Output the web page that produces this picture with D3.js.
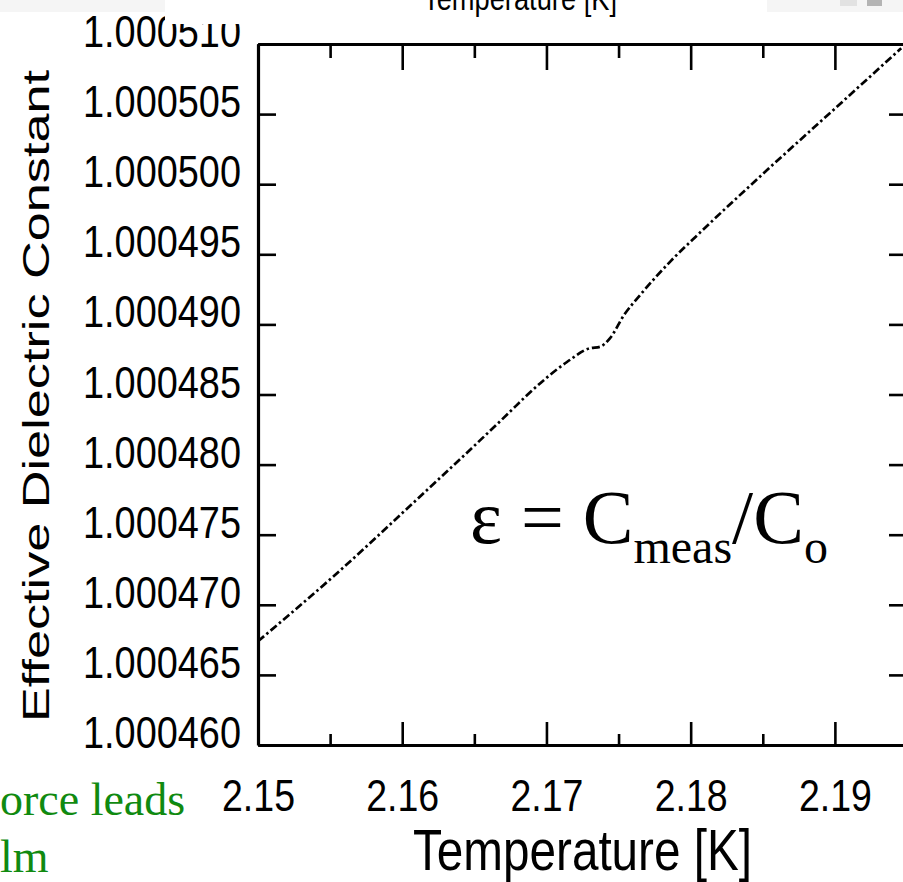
<!DOCTYPE html>
<html>
<head>
<meta charset="utf-8">
<script src="https://cdn.jsdelivr.net/npm/d3@7"></script>
<style>
  html, body { margin: 0; padding: 0; background: #ffffff; }
  svg { display: block; }
</style>
</head>
<body>
<svg id="chart" width="903" height="882"></svg>
<script>
// Effective dielectric constant of the cell vs temperature, across the lambda point
const temperature = [2.1500, 2.1552, 2.1610, 2.1675, 2.1685, 2.1714, 2.1730, 2.1737,
                     2.1744, 2.1754, 2.1765, 2.1786, 2.1806, 2.1855, 2.1899, 2.1946];
const dielectric  = [1.0004674, 1.0004720, 1.0004775, 1.0004838, 1.0004848, 1.0004873,
                     1.0004883, 1.0004884, 1.0004890, 1.0004907, 1.0004921, 1.0004945,
                     1.0004965, 1.0005012, 1.0005053, 1.0005097];

const xMajorTicks = [2.15, 2.16, 2.17, 2.18, 2.19];
const xMinorTicks = [2.155, 2.165, 2.175, 2.185];
const xTickLabels = ["2.15", "2.16", "2.17", "2.18", "2.19"];
const yTicks = [1.000460, 1.000465, 1.000470, 1.000475, 1.000480, 1.000485,
                1.000490, 1.000495, 1.000500, 1.000505, 1.000510];
const yTickLabels = ["1.000460", "1.000465", "1.000470", "1.000475", "1.000480", "1.000485",
                     "1.000490", "1.000495", "1.000500", "1.000505", "1.000510"];
const xTitle = "Temperature [K]";
const yTitle = "Effective Dielectric Constant";
const formulaParts = [["ε = C", "main"], ["meas", "sub"], ["/C", "main"], ["o", "sub"]];
const sideNotes = ["orce leads", "lm"];

const SANS = "'Liberation Sans', Arial, Helvetica, sans-serif";
const SERIF = "'Liberation Serif', 'Times New Roman', Times, serif";

const svg = d3.select("#chart");

const x = d3.scaleLinear().domain([2.15, 2.195]).range([258, 907]);
const y = d3.scaleLinear().domain([1.000460, 1.000510]).range([745, 44]);

// ---- frame and ticks (all ticks point inward) ----
function styleAxis(g, domainWidth) {
  g.selectAll(".domain").attr("stroke", "#000").attr("stroke-width", domainWidth);
  g.selectAll(".tick line").attr("stroke", "#000").attr("stroke-width", 2.6);
}

const axes = svg.append("g").attr("class", "axes");

axes.append("g").attr("transform", `translate(0,${y.range()[0]})`)
  .call(d3.axisBottom(x).tickValues(xMajorTicks).tickSize(-23).tickSizeOuter(0).tickFormat(""))
  .call(g => styleAxis(g, 3.2));
axes.append("g").attr("transform", `translate(0,${y.range()[0]})`)
  .call(d3.axisBottom(x).tickValues(xMinorTicks).tickSize(-11).tickFormat(""))
  .call(g => { g.select(".domain").remove(); styleAxis(g, 0); });
axes.append("g").attr("transform", `translate(0,${y.range()[1]})`)
  .call(d3.axisTop(x).tickValues(xMajorTicks).tickSize(-26).tickSizeOuter(0).tickFormat(""))
  .call(g => styleAxis(g, 3.2));
axes.append("g").attr("transform", `translate(0,${y.range()[1]})`)
  .call(d3.axisTop(x).tickValues(xMinorTicks).tickSize(-14).tickFormat(""))
  .call(g => { g.select(".domain").remove(); styleAxis(g, 0); });
axes.append("g").attr("transform", `translate(${x.range()[0]},0)`)
  .call(d3.axisLeft(y).tickValues(yTicks).tickSize(-18).tickSizeOuter(0).tickFormat(""))
  .call(g => styleAxis(g, 3.2));
axes.append("g").attr("transform", `translate(${x.range()[1]},0)`)
  .call(d3.axisRight(y).tickValues(yTicks).tickSize(-18).tickSizeOuter(0).tickFormat(""))
  .call(g => styleAxis(g, 3.2));

// ---- data line ----
svg.append("clipPath").attr("id", "plot-clip")
  .append("rect")
  .attr("x", x.range()[0]).attr("y", y.range()[1])
  .attr("width", x.range()[1] - x.range()[0])
  .attr("height", y.range()[0] - y.range()[1]);

const points = temperature.map((t, i) => [t, dielectric[i]]);
const line = d3.line()
  .x(d => x(d[0]))
  .y(d => y(d[1]))
  .curve(d3.curveMonotoneX);

svg.append("path")
  .datum(points)
  .attr("clip-path", "url(#plot-clip)")
  .attr("d", line)
  .attr("fill", "none")
  .attr("stroke", "#000")
  .attr("stroke-width", 2.7)
  .attr("stroke-dasharray", "8,3,2.5,3");

// ---- tick labels ----
svg.append("g").selectAll("text")
  .data(yTicks)
  .join("text")
  .attr("x", 241)
  .attr("y", d => y(d) + 3)
  .attr("text-anchor", "end")
  .attr("font-family", SANS)
  .attr("font-size", 45)
  .attr("textLength", 158)
  .attr("lengthAdjust", "spacingAndGlyphs")
  .attr("fill", "#000")
  .text((d, i) => yTickLabels[i]);

svg.append("g").selectAll("text")
  .data(xMajorTicks)
  .join("text")
  .attr("x", d => x(d) - 36)
  .attr("y", 811)
  .attr("font-family", SANS)
  .attr("font-size", 45)
  .attr("textLength", 73)
  .attr("lengthAdjust", "spacingAndGlyphs")
  .attr("fill", "#000")
  .text((d, i) => xTickLabels[i]);

// ---- axis titles ----
svg.append("text")
  .attr("x", 413)
  .attr("y", 870)
  .attr("font-family", SANS)
  .attr("font-size", 58)
  .attr("textLength", 339)
  .attr("lengthAdjust", "spacingAndGlyphs")
  .attr("fill", "#000")
  .text(xTitle);

svg.append("text")
  .attr("transform", "translate(49,396) rotate(-90)")
  .attr("text-anchor", "middle")
  .attr("font-family", SANS)
  .attr("font-size", 37)
  .attr("textLength", 652)
  .attr("lengthAdjust", "spacingAndGlyphs")
  .attr("fill", "#000")
  .text(yTitle);

// ---- header strip that covers the top of the upper label ----
svg.append("rect").attr("x", 0).attr("y", 0).attr("width", 903).attr("height", 12).attr("fill", "#f5f5f5");
svg.append("rect").attr("x", 165).attr("y", 0).attr("width", 602).attr("height", 24).attr("fill", "#ffffff");
svg.append("rect").attr("x", 840).attr("y", 0).attr("width", 17).attr("height", 6).attr("fill", "#e2e2e2");
svg.append("rect").attr("x", 867).attr("y", 0).attr("width", 15).attr("height", 6).attr("fill", "#b4b4b4");

svg.append("text")
  .attr("x", 423)
  .attr("y", 10)
  .attr("font-family", SANS)
  .attr("font-size", 33)
  .attr("textLength", 194)
  .attr("lengthAdjust", "spacingAndGlyphs")
  .attr("fill", "#000")
  .text(xTitle);

// ---- formula ----
const formula = svg.append("text")
  .attr("x", 470)
  .attr("y", 543)
  .attr("font-family", SERIF)
  .attr("fill", "#000");
let shifted = false;
formulaParts.forEach(([txt, kind]) => {
  const ts = formula.append("tspan").text(txt);
  if (kind === "sub") {
    ts.attr("font-size", 48).attr("dy", shifted ? 0 : 20);
    shifted = true;
  } else {
    ts.attr("font-size", 76).attr("dy", shifted ? -20 : 0);
    shifted = false;
  }
});

// ---- side notes ----
svg.append("g").selectAll("text")
  .data(sideNotes)
  .join("text")
  .attr("x", 0)
  .attr("y", (d, i) => 815 + i * 57)
  .attr("font-family", SERIF)
  .attr("font-size", 46)
  .attr("fill", "#108a10")
  .text(d => d);
</script>
</body>
</html>
